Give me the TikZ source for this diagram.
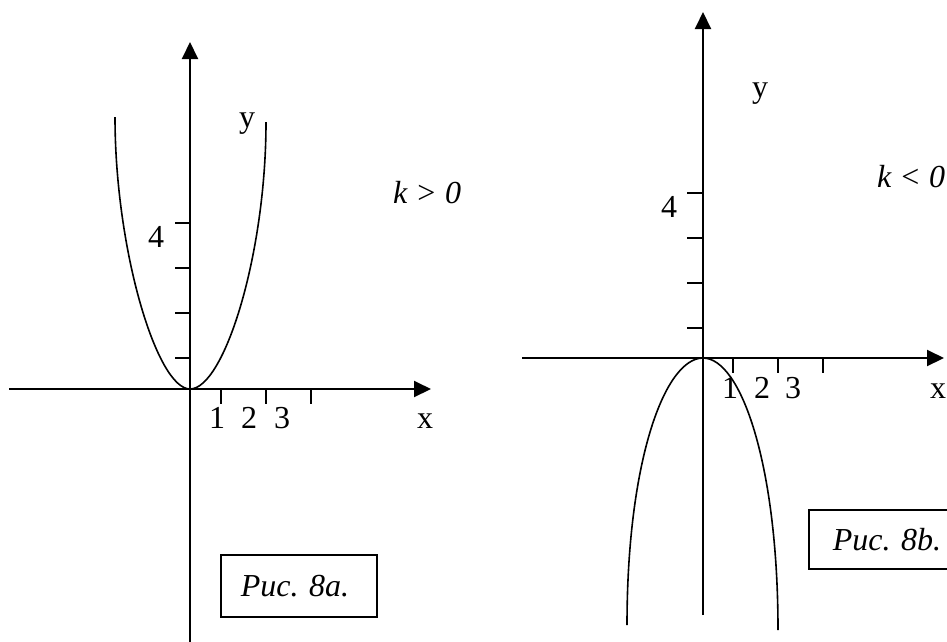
\documentclass[tikz,border=0pt]{standalone}
\usepackage{fontspec}
\setmainfont{Liberation Serif}
\usetikzlibrary{arrows.meta}
\frenchspacing
\begin{document}
\frenchspacing
\begin{tikzpicture}[x=1pt,y=-1pt,
  axisline/.style={line width=2pt,-{Triangle[length=17pt,width=16pt]}},
  plainaxis/.style={line width=2pt},
  curveline/.style={line width=1.6pt},
  tickline/.style={line width=1.7pt},
  lbl/.style={font=\fontsize{32}{38}\selectfont, inner sep=0pt, anchor=base},
  capbox/.style={draw, line width=1.6pt, font=\fontsize{32}{38}\selectfont\itshape\frenchspacing, anchor=north west, align=left}]
\useasboundingbox (0,0) rectangle (947,641);
\clip (0,0) rectangle (947,641);
% ---------- left graph (k > 0) ----------
\coordinate (Oa) at (190,389);
\coordinate (Yatop) at (190,42);
\coordinate (Yabot) at (190,650);
\coordinate (Xaleft) at (9,389);
\coordinate (Xaright) at (431,389);
\draw[plainaxis] (Yabot) -- (Oa);
\draw[axisline] (Oa) -- (Yatop);
\draw[plainaxis] (Xaleft) -- (Oa);
\draw[axisline] (Oa) -- (Xaright);
\foreach \t in {221,266,311} \draw[tickline] (\t,389) -- (\t,404);
\foreach \t in {223,268,313,358} \draw[tickline] (175,\t) -- (190,\t);
\coordinate (PaL) at (115,117);
\coordinate (PaR) at (266,122);
\draw[curveline] (PaL) .. controls (115,250) and (157,389) .. (Oa)
                       .. controls (224,389) and (266,255) .. (PaR);
\node[lbl] (ya) at (247,127) {y};
\node[lbl] (fa) at (156,247) {4};
\node[lbl] (a1) at (217,428) {1};
\node[lbl] (a2) at (249,428) {2};
\node[lbl] (a3) at (282,428) {3};
\node[lbl] (xa) at (425,428) {x};
\node[lbl, anchor=base west] (ka) at (393,203) {\textit{k}\hspace{0.3em}>\hspace{0.3em}\textit{0}};
\node[capbox, inner xsep=20pt, text width=116pt, minimum height=62pt] (capa) at (220,554) {Рис. 8a.};
% ---------- right graph (k < 0) ----------
\coordinate (Ob) at (703,358);
\coordinate (Ybtop) at (703,12);
\coordinate (Ybbot) at (703,615);
\coordinate (Xbleft) at (522,358);
\coordinate (Xbright) at (944,358);
\draw[plainaxis] (Ybbot) -- (Ob);
\draw[axisline] (Ob) -- (Ybtop);
\draw[plainaxis] (Xbleft) -- (Ob);
\draw[axisline] (Ob) -- (Xbright);
\foreach \t in {733,778,823} \draw[tickline] (\t,358) -- (\t,373);
\foreach \t in {193,238,283,328} \draw[tickline] (687,\t) -- (703,\t);
\coordinate (PbL) at (627,625);
\coordinate (PbR) at (778,630);
\draw[curveline] (PbL) .. controls (627,460) and (665,358) .. (Ob)
                       .. controls (741,358) and (778,465) .. (PbR);
\node[lbl] (yb) at (760,97) {y};
\node[lbl] (fb) at (669,217) {4};
\node[lbl] (b1) at (730,398) {1};
\node[lbl] (b2) at (762,398) {2};
\node[lbl] (b3) at (793,398) {3};
\node[lbl] (xb) at (938,398) {x};
\node[lbl, anchor=base west] (kb) at (877,187) {\textit{k}\hspace{0.3em}<\hspace{0.3em}\textit{0}};
\node[capbox, inner xsep=24pt, text width=120pt, minimum height=59pt] (capb) at (808,509) {Рис. 8b.};
\end{tikzpicture}
\end{document}
